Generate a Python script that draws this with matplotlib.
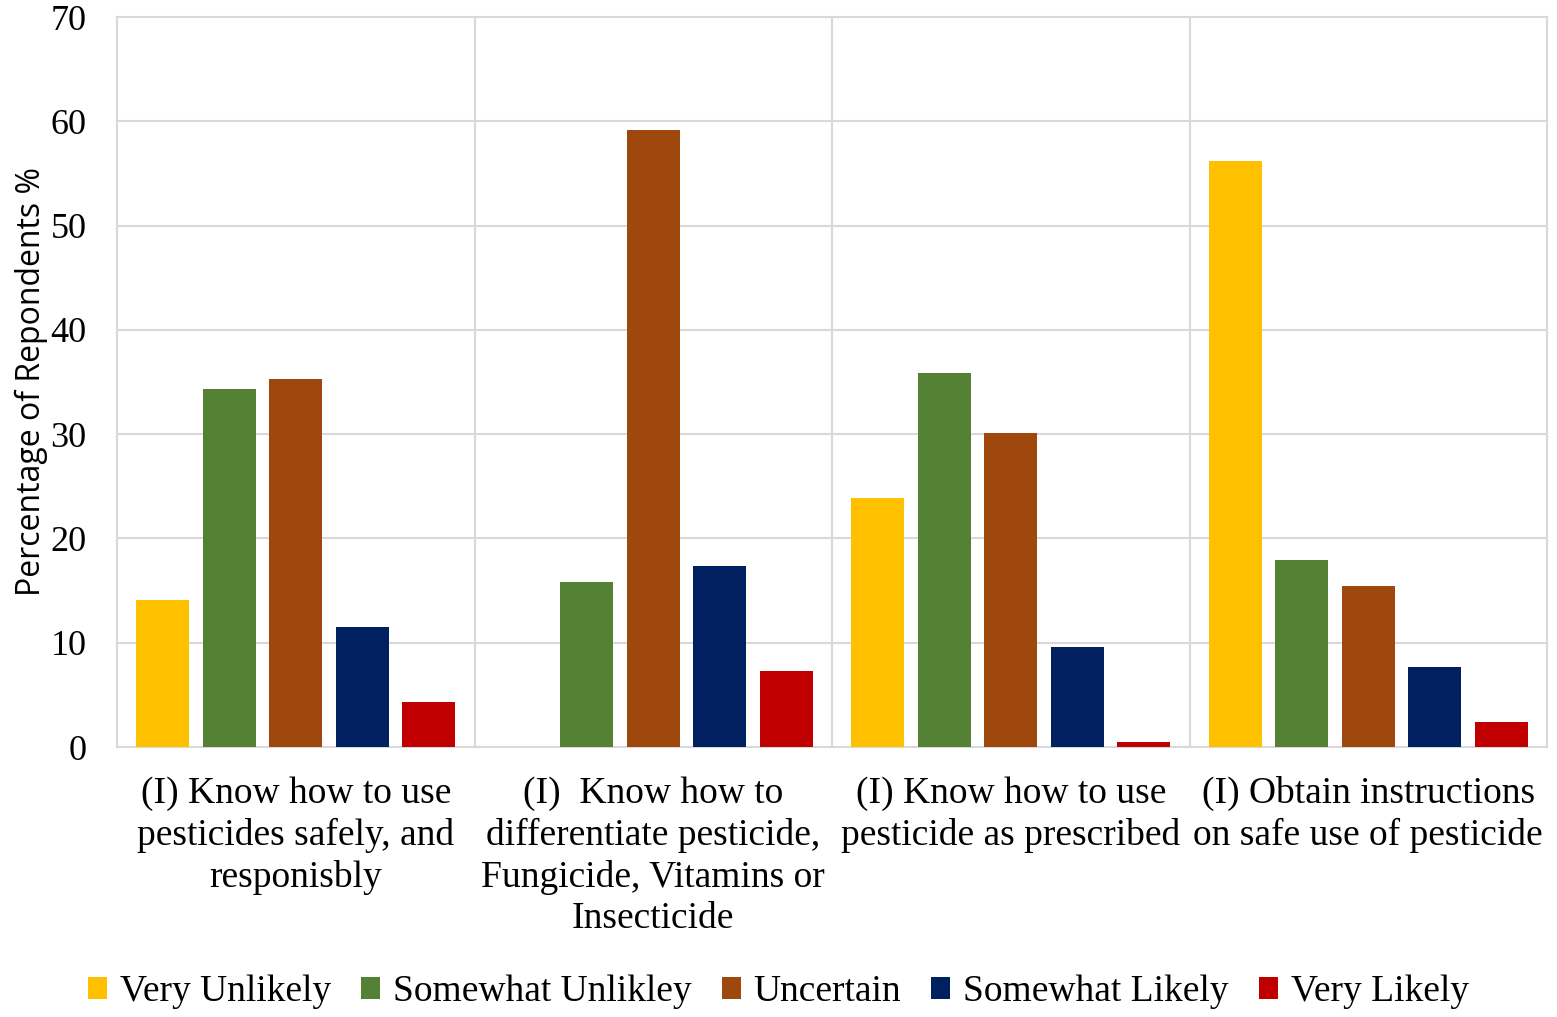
import numpy as np
import matplotlib.pyplot as plt
from matplotlib.patches import Patch

# Survey responses (percentage of respondents)
categories = [
    "(I) Know how to use\npesticides safely, and\nresponisbly",
    "(I)  Know how to\ndifferentiate pesticide,\nFungicide, Vitamins or\nInsecticide",
    "(I) Know how to use\npesticide as prescribed",
    "(I) Obtain instructions\non safe use of pesticide",
]
responses = ["Very Unlikely", "Somewhat Unlikley", "Uncertain", "Somewhat Likely", "Very Likely"]
very_unlikely = [14.1, 0.0, 23.9, 56.2]
somewhat_unlikely = [34.3, 15.8, 35.9, 17.9]
uncertain = [35.3, 59.2, 30.1, 15.4]
somewhat_likely = [11.5, 17.4, 9.6, 7.7]
very_likely = [4.3, 7.3, 0.5, 2.4]
yticks = [0, 10, 20, 30, 40, 50, 60, 70]

series = [very_unlikely, somewhat_unlikely, uncertain, somewhat_likely, very_likely]
colors = ["#FFC000", "#548235", "#9E480E", "#002060", "#C00000"]

fig = plt.figure(figsize=(15.57, 10.17), dpi=100)
ax = fig.add_axes([117 / 1557, 1 - 747 / 1017, (1547 - 117) / 1557, (747 - 17) / 1017])

x = np.arange(len(categories))
step = 0.186
width = 0.148
for i, (vals, c) in enumerate(zip(series, colors)):
    ax.bar(x + (i - 2) * step, vals, width, color=c, zorder=3)

ax.set_xlim(-0.5, len(categories) - 0.5)
ax.set_ylim(0, 70)
ax.set_yticks(yticks)
ax.set_yticklabels([str(t) for t in yticks], family="Liberation Serif", fontsize=26)
ax.set_xticks(x)
ax.set_xticklabels(categories, family="Liberation Serif", fontsize=27, linespacing=1.26)
ax.set_xticks(np.arange(0.5, len(categories) - 0.5), minor=True)
ax.tick_params(axis="both", which="both", length=0)
ax.tick_params(axis="x", pad=21)
ax.tick_params(axis="y", pad=22)
ax.grid(axis="y", color="#D9D9D9", linewidth=1.5, zorder=0)
ax.grid(axis="x", which="minor", color="#D9D9D9", linewidth=1.5, zorder=0)
for s in ax.spines.values():
    s.set_color("#D9D9D9")
    s.set_linewidth(1.5)

ax.set_ylabel("Percentage of Repondents %", family="Open Sans", fontsize=23, labelpad=2)

handles = [Patch(facecolor=c, label=r) for c, r in zip(colors, responses)]
fig.legend(handles=handles, loc="center", bbox_to_anchor=(0.5, 1 - 992 / 1017), ncol=5,
           frameon=False, prop={"family": "Liberation Serif", "size": 27},
           handlelength=0.5, handleheight=0.5, handletextpad=0.35, columnspacing=0.8)

fig.savefig("out.png", dpi=100)
